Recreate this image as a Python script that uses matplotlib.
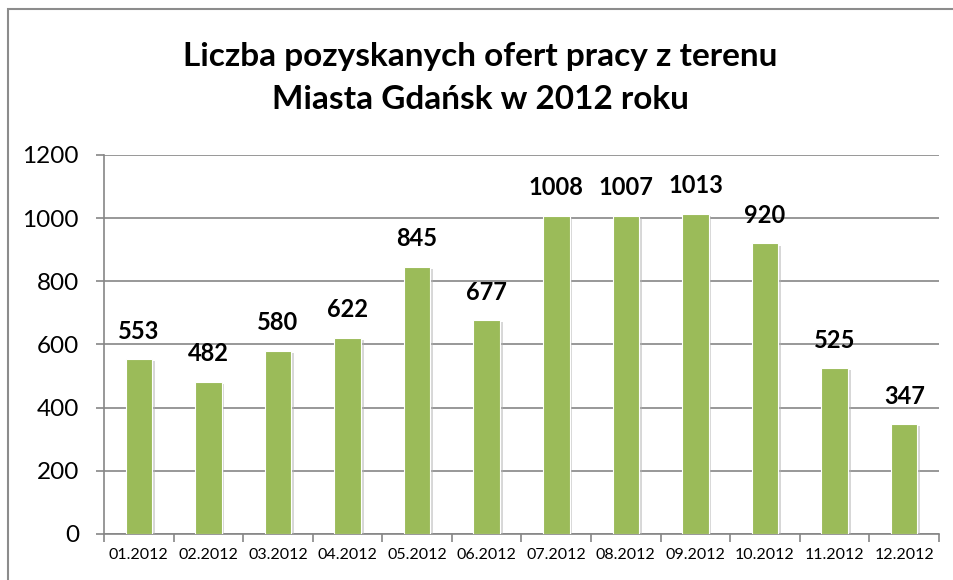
import matplotlib
matplotlib.use("Agg")
import matplotlib.pyplot as plt
import matplotlib.patheffects as pe
from matplotlib.patches import Rectangle
import numpy as np

months = ["01.2012", "02.2012", "03.2012", "04.2012", "05.2012", "06.2012",
          "07.2012", "08.2012", "09.2012", "10.2012", "11.2012", "12.2012"]
values = [553, 482, 580, 622, 845, 677, 1008, 1007, 1013, 920, 525, 347]
yticks = [0, 200, 400, 600, 800, 1000, 1200]
title = "Liczba pozyskanych ofert pracy z terenu\nMiasta Gdańsk w 2012 roku"

plt.rcParams['font.family'] = ['Lato', 'DejaVu Sans']

W, H = 954, 580
fig = plt.figure(figsize=(W / 100, H / 100), dpi=100)
fig.patch.set_facecolor("white")

# outer chart border (partially cropped)
fig.add_artist(Rectangle((8 / W, -0.1), 1.2, (H - 9) / H + 0.1,
                         transform=fig.transFigure, fill=False,
                         edgecolor="#8c8c8c", linewidth=1.5))

ax = fig.add_axes([104 / W, (H - 534) / H, (939 - 104) / W, (534 - 155) / H])
x = np.arange(len(values))
bars = ax.bar(x, values, width=0.38, color="#9BBB59", edgecolor="white",
              linewidth=0.8, zorder=3)
for b in bars:
    b.set_path_effects([pe.SimplePatchShadow(offset=(2, -1.5), shadow_rgbFace="#b0b0b0",
                                             alpha=0.5), pe.Normal()])

ax.set_xlim(-0.5, len(values) - 0.5)
ax.set_ylim(0, 1200)
ax.set_yticks(yticks)
ax.set_yticklabels([str(t) for t in yticks], fontsize=17.5)
ax.yaxis.grid(True, color="#868686", linewidth=1.2, zorder=0)
ax.set_axisbelow(True)

ax.set_xticks(x)
ax.set_xticklabels(months, fontsize=11.5)
ax.set_xticks(np.arange(-0.5, len(values)), minor=True)
ax.tick_params(axis="x", which="major", length=0, pad=10)
ax.tick_params(axis="x", which="minor", length=6, width=1.2, color="#868686")
ax.tick_params(axis="y", length=6, width=1.2, color="#868686", pad=12)

for s in ["top", "right"]:
    ax.spines[s].set_visible(False)
for s in ["left", "bottom"]:
    ax.spines[s].set_color("#868686")
    ax.spines[s].set_linewidth(1.2)

for xi, v in zip(x, values):
    ax.annotate(str(v), (xi, v), xytext=(0, 12), textcoords="offset points",
                ha="center", va="bottom", fontsize=17, fontweight="bold")

fig.text(480 / W, 1 - 78 / H, title, ha="center", va="center", fontsize=24,
         fontweight="bold", linespacing=1.55)

fig.savefig("out.png", dpi=100)
